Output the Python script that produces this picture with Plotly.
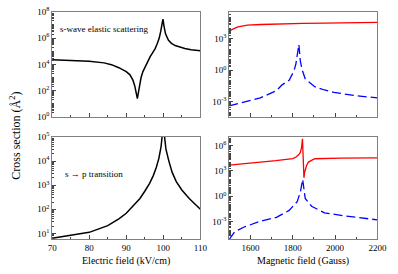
import plotly.graph_objects as go

# ---- data ----
e_field_el = [70, 75, 80, 84, 86, 88, 90, 91, 91.8, 92.3, 92.7, 93.0, 93.3, 93.6, 94.0, 94.5,
              95.2, 95.8, 96.5, 97.1, 97.8, 98.4, 98.9, 99.3, 99.6, 99.9, 100.2, 100.6, 101.4,
              102.2, 103.2, 104.5, 105.8, 107.5, 110]
sigma_el = [2.2e4, 2.0e4, 1.7e4, 1.3e4, 9.5e3, 5.6e3, 2.8e3, 1.6e3, 6.3e2, 2.3e2, 63, 25, 79, 3.0e2,
            1.0e3, 2.8e3, 7.9e3, 1.9e4, 4.0e4, 7.6e4, 1.6e5, 4.0e5, 1.0e6, 3.2e6, 7.9e6, 2.8e7,
            7.9e6, 2.1e6, 6.9e5, 4.0e5, 2.7e5, 2.0e5, 1.6e5, 1.3e5, 1.1e5]

e_field_sp = [70, 75, 80, 85, 88, 90, 92, 93.7, 95, 96.3, 97.3, 98.1, 98.8, 99.4, 99.8, 100,
              100.2, 100.7, 101.5, 102.4, 103.5, 105, 107, 109.3, 110]
sigma_sp = [6.3, 8.3, 11, 21, 40, 68, 1.4e2, 2.8e2, 5.6e2, 1.2e3, 2.5e3, 5.4e3, 1.3e4, 4.0e4,
            1.6e5, 3.2e5, 1.6e5, 3.2e4, 1.0e4, 3.4e3, 1.4e3, 6.3e2, 2.8e2, 1.3e2, 1.0e2]

b_top_red = [1500, 1510, 1525, 1541, 1565, 1586, 1650, 1723, 1850, 1950, 2075, 2200]
s_top_red = [5.4e3, 7.1e3, 9.5e3, 1.3e4, 1.6e4, 1.9e4, 2.2e4, 2.5e4, 2.8e4, 3.0e4, 3.3e4, 3.5e4]

b_top_blue = [1500, 1575, 1647, 1723, 1750, 1783, 1806, 1815, 1821, 1829, 1836, 1845, 1859,
              1904, 1950, 1995, 2101, 2200]
s_top_blue = [4.1e-4, 1.0e-3, 2.3e-3, 1.15e-2, 4.0e-2, 0.11, 0.87, 4.0, 28, 2.7e2, 7.1, 1.0,
              0.15, 2.7e-2, 1.3e-2, 7.6e-3, 3.7e-3, 2.3e-3]

b_bot_red = [1500, 1570, 1647, 1720, 1768, 1800, 1814, 1828, 1836, 1842, 1846, 1849, 1851,
             1853, 1856, 1859, 1865, 1874, 1904, 2025, 2200]
s_bot_red = [4.7e3, 7.6e3, 1.1e4, 1.6e4, 2.0e4, 2.8e4, 4.1e4, 7.9e4, 1.5e5, 6.3e5, 6.2e6, 1e5,
             1e3, 1.5e2, 6.3e2, 1.3e3, 4e3, 1.1e4, 2.7e4, 3.2e4, 3.5e4]

b_bot_blue = [1500, 1510, 1526, 1571, 1647, 1723, 1783, 1821, 1836, 1847, 1859, 1889, 1950,
              2041, 2200]
s_bot_blue = [7.9e-6, 2.0e-5, 6.5e-5, 2.3e-4, 1.1e-3, 3.2e-3, 2.1e-2, 0.23, 3.1, 98, 0.55,
              6.5e-2, 1.1e-2, 4.9e-3, 1.6e-3]

# tick exponents for each panel's y axis
exp_top_left = [0, 2, 4, 6, 8]
exp_bot_left = [1, 2, 3, 4, 5]
exp_right = [-3, 0, 3]
exp_bot_right = [-3, 0, 3, 6]
e_ticks = [70, 80, 90, 100, 110]
b_ticks = [1600, 1800, 2000, 2200]

FONT = "Liberation Serif, Times New Roman, DejaVu Serif, serif"
fig = go.Figure()
fig.add_trace(go.Scatter(x=e_field_el, y=sigma_el, mode="lines", xaxis="x", yaxis="y",
                         line=dict(color="black", width=1.5)))
fig.add_trace(go.Scatter(x=e_field_sp, y=sigma_sp, mode="lines", xaxis="x3", yaxis="y3",
                         line=dict(color="black", width=1.5)))
fig.add_trace(go.Scatter(x=b_top_red, y=s_top_red, mode="lines", xaxis="x2", yaxis="y2",
                         line=dict(color="#ff0000", width=1.3)))
fig.add_trace(go.Scatter(x=b_top_blue, y=s_top_blue, mode="lines", xaxis="x2", yaxis="y2",
                         line=dict(color="#0000ff", width=1.3, dash="9px,4px")))
fig.add_trace(go.Scatter(x=b_bot_red, y=s_bot_red, mode="lines", xaxis="x4", yaxis="y4",
                         line=dict(color="#ff0000", width=1.3)))
fig.add_trace(go.Scatter(x=b_bot_blue, y=s_bot_blue, mode="lines", xaxis="x4", yaxis="y4",
                         line=dict(color="#0000ff", width=1.3, dash="9px,4px")))

common = dict(showgrid=False, zeroline=False, showline=True, mirror=True, linecolor="#808080",
              linewidth=1, ticks="inside", tickcolor="#444", ticklabeloverflow="allow",
              tickfont=dict(family=FONT, size=9, color="black"))

def xax(domain, anchor, rng, ticks, minor_dt, labels):
    d = dict(common)
    d.update(domain=domain, anchor=anchor, range=rng, tickmode="array", tickvals=ticks,
             ticktext=[str(t) for t in ticks], ticklen=4, showticklabels=labels,
             minor=dict(ticks="inside", dtick=minor_dt, tick0=ticks[0], ticklen=2, tickcolor="#444"))
    return d

def yax(domain, anchor, rng, exps):
    d = dict(common)
    d.update(domain=domain, anchor=anchor, type="log", range=rng, tickmode="array",
             tickvals=[10.0 ** e for e in exps],
             ticktext=["10<sup>%d</sup>" % e for e in exps], ticklen=4,
             minor=dict(ticks="inside", dtick="D1", ticklen=2, tickcolor="#444"))
    return d

xl = [49/398, 203/398]
xr = [233/398, 387/398]
yt = [(274-115)/274, (274-5)/274]
yb = [(274-243)/274, (274-136)/274]

fig.update_layout(
    width=398, height=274, margin=dict(l=0, r=0, t=0, b=0),
    paper_bgcolor="white", plot_bgcolor="white", showlegend=False,
    font=dict(family=FONT, color="black"),
    xaxis=xax(xl, "y", [70, 110], e_ticks, 5, False),
    yaxis=yax(yt, "x", [-0.001, 8.001], exp_top_left),
    xaxis2=xax(xr, "y2", [1500, 2200], b_ticks, 100, False),
    yaxis2=yax(yt, "x2", [-4.45, 5.55], exp_right),
    xaxis3=xax(xl, "y3", [70, 110], e_ticks, 5, True),
    yaxis3=yax(yb, "x3", [0.75, 5.0], exp_bot_left),
    xaxis4=xax(xr, "y4", [1500, 2200], b_ticks, 100, True),
    yaxis4=yax(yb, "x4", [-5.1, 7.0], exp_bot_right),
)

ann = [
    dict(text="s-wave elastic scattering", x=55/398, y=(274-23)/274, xanchor="left", yanchor="middle",
         font=dict(family=FONT, size=9, color="black")),
    dict(text="s \u2192 p transition", x=60/398, y=(274-175)/274, xanchor="left", yanchor="middle",
         font=dict(family=FONT, size=9, color="black")),
    dict(text="Electric field (kV/cm)", x=126/398, y=(274-266)/274, xanchor="center", yanchor="middle",
         font=dict(family=FONT, size=10, color="black")),
    dict(text="Magnetic field (Gauss)", x=310/398, y=(274-266)/274, xanchor="center", yanchor="middle",
         font=dict(family=FONT, size=10, color="black")),
    dict(text="Cross section (\u00c5<sup>2</sup>)", x=10/398, y=(274-135)/274, xanchor="center",
         yanchor="middle", textangle=-90, font=dict(family=FONT, size=12, color="black")),
]
for a in ann:
    a.update(xref="paper", yref="paper", showarrow=False)
fig.update_layout(annotations=ann)

fig.write_html("out.html", config={"displayModeBar": False},
               post_script="document.body.style.margin='0';")
